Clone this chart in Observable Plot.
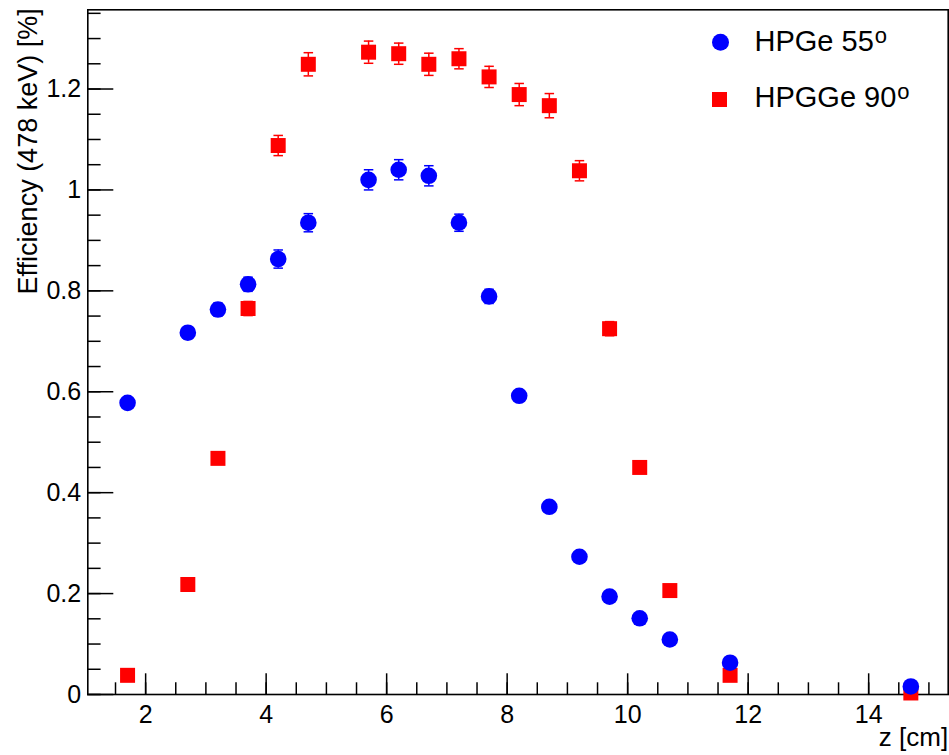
<!DOCTYPE html>
<html>
<head>
<meta charset="utf-8">
<script src="https://cdn.jsdelivr.net/npm/d3@7"></script>
<script src="https://cdn.jsdelivr.net/npm/@observablehq/plot@0.6"></script>
<style>
  html, body { margin: 0; padding: 0; background: #ffffff; }
  #chart svg { display: block; }
</style>
</head>
<body>
<div id="chart"></div>
<script>
// ---- data ----
const z = [1.7, 2.7, 3.2, 3.7, 4.2, 4.7, 5.7, 6.2, 6.7, 7.2, 7.7, 8.2, 8.7, 9.2, 9.7, 10.2, 10.7, 11.7, 14.7];
const eff55 = [0.578, 0.717, 0.763, 0.813, 0.863, 0.935, 1.020, 1.040, 1.028, 0.935, 0.789, 0.592, 0.372, 0.273, 0.194, 0.151, 0.109, 0.063, 0.016];
const err55 = [0.01, 0.012, 0.013, 0.014, 0.018, 0.018, 0.02, 0.02, 0.02, 0.017, 0.014, 0.01, 0.007, 0.005, 0.004, 0.003, 0.002, 0.001, 0.0005];
const eff90 = [0.038, 0.218, 0.468, 0.765, 1.088, 1.249, 1.273, 1.270, 1.249, 1.260, 1.224, 1.189, 1.167, 1.038, 0.725, 0.450, 0.206, 0.038, 0.003];
const err90 = [0.002, 0.005, 0.009, 0.014, 0.02, 0.023, 0.022, 0.021, 0.022, 0.02, 0.021, 0.022, 0.024, 0.02, 0.014, 0.009, 0.004, 0.001, 0.0];
const xMajor = [2, 4, 6, 8, 10, 12, 14];
const xMinor = d3.range(1.5, 15.01, 0.5);
const yMajor = [0, 0.2, 0.4, 0.6, 0.8, 1, 1.2];
const yMinor = d3.range(0, 1.351, 0.05);
const legendLabels = ["HPGe 55", "HPGGe 90"];
const legendSup = "o";
const xTitle = "z [cm]";
const yTitle = "Efficiency (478 keV) [%]";

const s55 = z.map((x, i) => ({x, y: eff55[i], e: err55[i]}));
const s90 = z.map((x, i) => ({x, y: eff90[i], e: err90[i]}));

const BLUE = "#0000ff", RED = "#ff0000";
const capSymbol = {draw(ctx, size) { const w = Math.sqrt(size); ctx.moveTo(-w / 2, 0); ctx.lineTo(w / 2, 0); }};
const sqR = 15 / Math.sqrt(Math.PI);

function errorMarks(data, color) {
  return [
    Plot.ruleX(data, {x: "x", y1: d => d.y - d.e, y2: d => d.y + d.e, stroke: color, strokeWidth: 1.5}),
    Plot.dot(data, {x: "x", y: d => d.y + d.e, symbol: capSymbol, r: 9.5 / Math.sqrt(Math.PI), stroke: color, strokeWidth: 1.5, fill: "none"}),
    Plot.dot(data, {x: "x", y: d => d.y - d.e, symbol: capSymbol, r: 9.5 / Math.sqrt(Math.PI), stroke: color, strokeWidth: 1.5, fill: "none"})
  ];
}

const chart = Plot.plot({
  width: 949,
  height: 755,
  marginLeft: 87.3,
  marginRight: 1.3,
  marginTop: 9.3,
  marginBottom: 61,
  style: {fontFamily: "'Liberation Sans', Arial, Helvetica, sans-serif", fontSize: "25px", background: "#ffffff", color: "#000000"},
  x: {domain: [1.04, 15.32]},
  y: {domain: [0, 1.357]},
  marks: [
    // minor & major ticks pointing inward
    Plot.axisX(xMinor, {tickSize: -11.7, tickFormat: () => "", label: null, strokeWidth: 1.5}),
    Plot.axisX(xMajor, {tickSize: -20.7, tickPadding: 31.7, tickFormat: d => String(d), label: null, strokeWidth: 1.5, fontSize: 25}),
    Plot.axisY(yMinor, {tickSize: -13.3, tickFormat: () => "", label: null, strokeWidth: 1.5}),
    Plot.axisY(yMajor, {tickSize: -26, tickPadding: 32.6, tickFormat: d => String(d), label: null, strokeWidth: 1.5, fontSize: 25}),
    Plot.frame({stroke: "#000000", strokeWidth: 1.6}),
    // series
    ...errorMarks(s90, RED),
    Plot.dot(s90, {x: "x", y: "y", symbol: "square", r: sqR, fill: RED}),
    ...errorMarks(s55, BLUE),
    Plot.dot(s55, {x: "x", y: "y", symbol: "circle", r: 8.3, fill: BLUE}),
    // titles
    Plot.text([xTitle], {frameAnchor: "bottom-right", textAnchor: "end", lineAnchor: "bottom", dy: 51, fontSize: 26, fill: "#000000"}),
    Plot.text([yTitle], {frameAnchor: "top-left", rotate: -90, textAnchor: "end", lineAnchor: "bottom", dx: -50.5, dy: -1.5, fontSize: 27, fill: "#000000"}),
    // legend
    Plot.dot([legendLabels[0]], {frameAnchor: "top-right", dx: -227.7, dy: 32.4, r: 8.5, fill: BLUE, symbol: "circle"}),
    Plot.dot([legendLabels[1]], {frameAnchor: "top-right", dx: -228.7, dy: 89.7, r: 15 / Math.sqrt(Math.PI), fill: RED, symbol: "square"}),
    Plot.text([legendLabels[0]], {frameAnchor: "top-right", textAnchor: "start", lineAnchor: "middle", dx: -193.7, dy: 32.4, fontSize: 29, fill: "#000000"}),
    Plot.text([legendLabels[1]], {frameAnchor: "top-right", textAnchor: "start", lineAnchor: "middle", dx: -193.7, dy: 88, fontSize: 29, fill: "#000000"})
  ]
});

// superscript degree marks on legend entries
d3.select(chart).selectAll("text")
  .filter(function() { return legendLabels.includes(this.textContent); })
  .each(function() {
    d3.select(this).append("tspan")
      .attr("dy", "-8")
      .attr("dx", "1")
      .attr("font-size", "22px")
      .text(legendSup);
  });

document.getElementById("chart").appendChild(chart);
</script>
</body>
</html>
